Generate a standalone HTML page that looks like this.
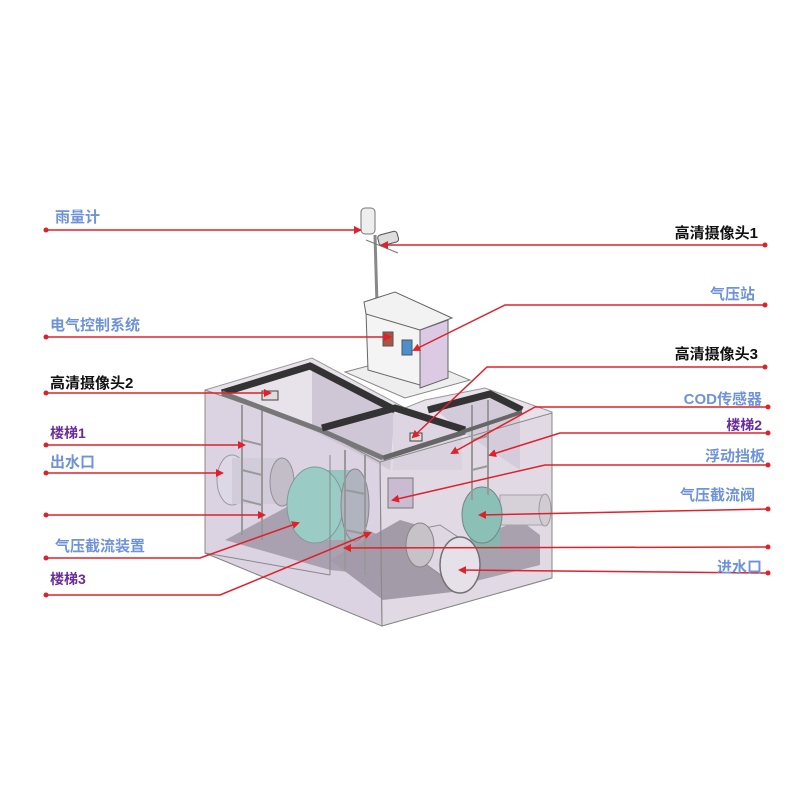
<!DOCTYPE html>
<html><head><meta charset="utf-8"><style>
body{margin:0;background:#fff}
svg{display:block}
text{font-family:"Liberation Sans","Noto Sans CJK SC",sans-serif;font-weight:bold;font-size:15px}
.b{fill:#6f93d8}.k{fill:#111}.p{fill:#6a2c9c}
.l{stroke:#e0202a;stroke-width:1.5;fill:none}
</style></head><body>
<svg width="800" height="800" viewBox="0 0 800 800">
<defs>
<marker id="a" markerWidth="8" markerHeight="8" refX="6" refY="4" orient="auto" markerUnits="userSpaceOnUse"><path d="M0,0 L8,4 L0,8 Z" fill="#e0202a"/></marker>
</defs>
<polygon points="205,390 312,358 405,408 425,400 485,388 552,412 552,578 382,626 205,553" fill="#e8e2ea" stroke="#999" stroke-width="1"/>
<polygon points="312,362 312,430 390,470 395,410" fill="#cfc6d6"/>
<polygon points="393,415 410,410 462,428 462,470 393,470" fill="#ddd6e2"/>
<polygon points="430,405 490,392 520,410 520,470 460,430" fill="#d3cbd9"/>
<polygon points="225,540 300,500 390,540 380,575 330,570" fill="#8e8891"/>
<polygon points="330,560 400,520 470,540 470,590 383,600" fill="#817b86"/>
<polygon points="420,560 520,520 540,535 540,565 460,585" fill="#8a8490"/>
<polygon points="345,372 410,355 470,380 405,398" fill="#eee" stroke="#888"/>
<line x1="375" y1="235" x2="377" y2="305" stroke="#888" stroke-width="3"/>
<rect x="361" y="208" width="14" height="26" rx="4" fill="#eee" stroke="#777"/>
<line x1="366" y1="240" x2="398" y2="253" stroke="#777"/>
<rect x="378" y="233" width="20" height="11" rx="3" fill="#ddd" stroke="#555" transform="rotate(-15 388 238)"/>
<polygon points="366,312 420,330 420,385 368,370" fill="#f4f4f4" stroke="#666"/>
<polygon points="420,330 448,320 448,378 420,388" fill="#dcc9e4" stroke="#666"/>
<polygon points="364,302 395,292 452,318 420,330 366,314" fill="#f2f2f2" stroke="#666"/>
<rect x="383" y="332" width="10" height="14" fill="#a54" stroke="#555"/>
<rect x="402" y="340" width="10" height="15" fill="#4b8fd0" stroke="#555"/>
<ellipse cx="232" cy="480" rx="15" ry="25" fill="#ececf0" stroke="#777"/>
<rect x="232" y="458" width="50" height="46" fill="#d8d6dc"/>
<ellipse cx="282" cy="482" rx="12" ry="24" fill="#bbb" stroke="#666"/>
<rect x="315" y="470" width="40" height="70" fill="#6cc9ac"/>
<ellipse cx="315" cy="505" rx="28" ry="38" fill="#72d6b6" stroke="#3e7a6a"/>
<ellipse cx="355" cy="505" rx="14" ry="36" fill="#9aa" stroke="#555"/>
<rect x="500" y="495" width="45" height="30" fill="#d6d3d8" stroke="#888"/>
<ellipse cx="545" cy="510" rx="6" ry="16" fill="#ccc" stroke="#777"/>
<rect x="470" y="525" width="30" height="25" fill="#4fa88f"/>
<ellipse cx="482" cy="515" rx="20" ry="28" fill="#58b89d" stroke="#355"/>
<polygon points="415,530 440,525 470,545 455,585 420,560" fill="#e4e0e6" stroke="#666"/>
<ellipse cx="420" cy="545" rx="14" ry="22" fill="#bbb" stroke="#555"/>
<ellipse cx="460" cy="565" rx="20" ry="28" fill="#f0eef2" stroke="#333" stroke-width="1.5"/>
<polygon points="205,390 320,430 380,462 382,626 205,553" fill="#cdc2d6" fill-opacity="0.45" stroke="#888"/>
<polygon points="380,462 552,413 552,578 382,626" fill="#d6cddd" fill-opacity="0.4" stroke="#888"/>
<line x1="330" y1="455" x2="330" y2="575" stroke="#888"/>
<line x1="205" y1="553" x2="330" y2="575" stroke="#888"/>
<g stroke="#999" stroke-width="2" fill="none">
<line x1="242" y1="405" x2="242" y2="535"/><line x1="262" y1="410" x2="262" y2="540"/>
<line x1="242" y1="440" x2="262" y2="445"/><line x1="242" y1="470" x2="262" y2="475"/><line x1="242" y1="500" x2="262" y2="505"/>
<line x1="345" y1="450" x2="345" y2="570"/><line x1="365" y1="455" x2="365" y2="575"/>
<line x1="345" y1="490" x2="365" y2="494"/><line x1="345" y1="530" x2="365" y2="534"/>
<line x1="472" y1="405" x2="472" y2="500"/><line x1="488" y1="400" x2="488" y2="495"/>
<line x1="472" y1="440" x2="488" y2="436"/><line x1="472" y1="470" x2="488" y2="466"/>
</g>
<rect x="388" y="478" width="25" height="30" fill="#c9bcd2" stroke="#777"/>
<polyline points="222,393 310,366 395,410" fill="none" stroke="#333" stroke-width="7"/>
<polyline points="222,393 320,430 383,458" fill="none" stroke="#777" stroke-width="5"/>
<polyline points="322,428 395,408 465,430" fill="none" stroke="#333" stroke-width="7"/>
<polyline points="383,458 465,432" fill="none" stroke="#666" stroke-width="5"/>
<polyline points="428,410 490,394 522,410" fill="none" stroke="#333" stroke-width="7"/>
<line x1="462" y1="432" x2="522" y2="412" stroke="#666" stroke-width="4"/>
<rect x="262" y="391" width="16" height="9" fill="#ddd" stroke="#444"/>
<rect x="410" y="433" width="12" height="8" fill="#ddd" stroke="#444"/>
<g class="l" marker-end="url(#a)">
<polyline points="46,230 360,230"/>
<polyline points="46,337 390,337"/>
<polyline points="46,393 270,393"/>
<polyline points="46,445 244,445"/>
<polyline points="46,473 222,473"/>
<polyline points="46,515 264,515"/>
<polyline points="46,558 200,558 298,523"/>
<polyline points="46,595 220,595 370,533"/>
<polyline points="765,245 382,245"/>
<polyline points="765,305 505,305 414,350"/>
<polyline points="765,367 487,367 413,437"/>
<polyline points="768,407 535,407 452,453"/>
<polyline points="768,433 560,433 490,455"/>
<polyline points="768,465 545,465 393,500"/>
<polyline points="768,509 480,515"/>
<polyline points="768,547 345,548"/>
<polyline points="768,573 460,570"/>
</g>
<g fill="#e0202a">
<circle cx="46" cy="230" r="2.5"/><circle cx="46" cy="337" r="2.5"/><circle cx="46" cy="393" r="2.5"/><circle cx="46" cy="445" r="2.5"/><circle cx="46" cy="473" r="2.5"/><circle cx="46" cy="515" r="2.5"/><circle cx="46" cy="558" r="2.5"/><circle cx="46" cy="595" r="2.5"/>
<circle cx="765" cy="245" r="2.5"/><circle cx="765" cy="305" r="2.5"/><circle cx="765" cy="367" r="2.5"/><circle cx="768" cy="407" r="2.5"/><circle cx="768" cy="433" r="2.5"/><circle cx="768" cy="465" r="2.5"/><circle cx="768" cy="509" r="2.5"/><circle cx="768" cy="547" r="2.5"/><circle cx="768" cy="573" r="2.5"/>
</g>
<text x="55" y="222" class="b">雨量计</text>
<text x="50" y="330" class="b">电气控制系统</text>
<text x="50" y="388" class="k">高清摄像头2</text>
<text x="50" y="438" class="p" style="font-size:14px">楼梯1</text>
<text x="50" y="467" class="b">出水口</text>
<text x="55" y="551" class="b">气压截流装置</text>
<text x="50" y="584" class="p" style="font-size:14px">楼梯3</text>
<text x="758" y="238" class="k" text-anchor="end">高清摄像头1</text>
<text x="755" y="299" class="b" text-anchor="end">气压站</text>
<text x="758" y="359" class="k" text-anchor="end">高清摄像头3</text>
<text x="762" y="404" class="b" text-anchor="end">COD传感器</text>
<text x="762" y="430" class="p" text-anchor="end" style="font-size:14px">楼梯2</text>
<text x="765" y="461" class="b" text-anchor="end">浮动挡板</text>
<text x="755" y="500" class="b" text-anchor="end">气压截流阀</text>
<text x="762" y="572" class="b" text-anchor="end">进水口</text>
</svg>
</body></html>
